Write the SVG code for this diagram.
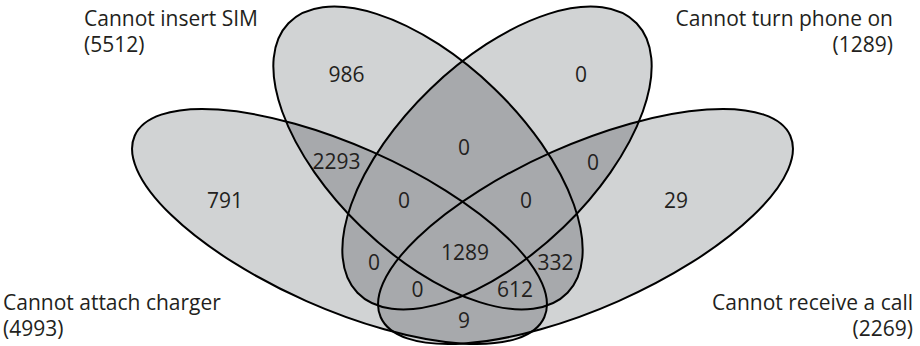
<svg xmlns="http://www.w3.org/2000/svg" xmlns:xlink="http://www.w3.org/1999/xlink" width="920" height="346" viewBox="0 0 920 346">
<style>
.fl{fill:#d1d3d4;stroke:none}
.fd{fill:#a7a9ac;stroke:none}
.ol{fill:none;stroke:#000;stroke-width:2}
.t{font-family:"Open Sans","Noto Sans",sans-serif;font-size:21px;fill:#231f20}
.n{text-anchor:middle}
.e{text-anchor:end}
</style>
<defs>
<ellipse id="eA" cx="428" cy="158" rx="194" ry="96" transform="rotate(44 428 158)"/>
<ellipse id="eB" cx="497" cy="158" rx="194" ry="96" transform="rotate(-44 497 158)"/>
<ellipse id="eC" cx="339.5" cy="226.5" rx="224" ry="81.6" transform="rotate(23.9 339.5 226.5)"/>
<ellipse id="eD" cx="585.5" cy="226.5" rx="224" ry="81.6" transform="rotate(-23.9 585.5 226.5)"/>
<clipPath id="cA"><use href="#eA"/></clipPath>
<clipPath id="cB"><use href="#eB"/></clipPath>
<clipPath id="cC"><use href="#eC"/></clipPath>
</defs>
<g id="fills">
<use href="#eA" class="fl"/>
<use href="#eB" class="fl"/>
<use href="#eC" class="fl"/>
<use href="#eD" class="fl"/>
</g>
<g id="overlaps">
<g clip-path="url(#cA)">
<use href="#eB" class="fd"/>
<use href="#eC" class="fd"/>
<use href="#eD" class="fd"/>
</g>
<g clip-path="url(#cB)">
<use href="#eC" class="fd"/>
<use href="#eD" class="fd"/>
</g>
<g clip-path="url(#cC)">
<use href="#eD" class="fd"/>
</g>
</g>
<g id="set-sim">
<use href="#eA" class="ol"/>
<text class="t" x="84" y="26">Cannot insert SIM</text>
<text class="t" x="84" y="52">(5512)</text>
</g>
<g id="set-phone">
<use href="#eB" class="ol"/>
<text class="t e" x="893" y="26">Cannot turn phone on</text>
<text class="t e" x="893" y="52">(1289)</text>
</g>
<g id="set-charger">
<use href="#eC" class="ol"/>
<text class="t" x="3" y="310">Cannot attach charger</text>
<text class="t" x="3" y="336">(4993)</text>
</g>
<g id="set-call">
<use href="#eD" class="ol"/>
<text class="t e" x="913" y="310">Cannot receive a call</text>
<text class="t e" x="913" y="336">(2269)</text>
</g>
<g id="counts">
<text class="t n" x="346.5" y="82">986</text>
<text class="t n" x="581" y="82">0</text>
<text class="t n" x="464" y="155">0</text>
<text class="t n" x="336.5" y="169">2293</text>
<text class="t n" x="593" y="170">0</text>
<text class="t n" x="225" y="208">791</text>
<text class="t n" x="404" y="208">0</text>
<text class="t n" x="526" y="208">0</text>
<text class="t n" x="676" y="208">29</text>
<text class="t n" x="465" y="260">1289</text>
<text class="t n" x="374" y="270">0</text>
<text class="t n" x="555.5" y="270">332</text>
<text class="t n" x="417.5" y="297">0</text>
<text class="t n" x="515" y="297">612</text>
<text class="t n" x="464" y="328">9</text>
</g>
</svg>
